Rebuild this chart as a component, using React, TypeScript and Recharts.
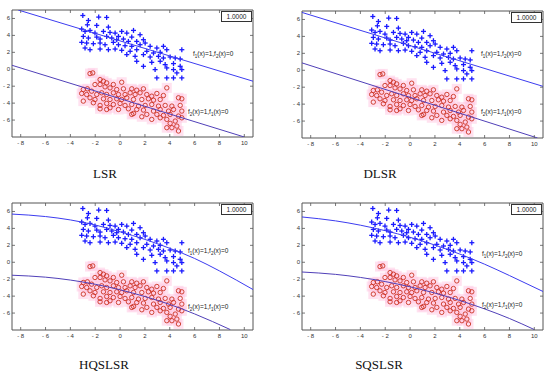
import React from 'react';
import { ScatterChart, Scatter, XAxis, YAxis, ReferenceArea } from 'recharts';

// class 1 (blue +) and class 2 (red o) samples, same in all four panels
const BLUE_POINTS = [
  { x: -3.0, y: 6.35 }, { x: -2.55, y: 5.76 }, { x: -1.72, y: 6.16 }, { x: -1.08, y: 6.12 },
  { x: -2.63, y: 5.25 }, { x: -1.88, y: 5.18 }, { x: -3.09, y: 4.75 }, { x: -2.82, y: 4.47 },
  { x: -2.42, y: 4.59 }, { x: -2.02, y: 4.27 }, { x: -1.34, y: 4.47 }, { x: -0.81, y: 4.35 },
  { x: -0.4, y: 4.27 }, { x: 0.13, y: 4.47 }, { x: 0.54, y: 4.27 }, { x: 1.61, y: 4.08 },
  { x: 0.94, y: 3.8 }, { x: -2.96, y: 3.88 }, { x: -2.55, y: 3.69 }, { x: -1.88, y: 3.8 },
  { x: -1.61, y: 3.57 }, { x: -1.08, y: 3.88 }, { x: -0.67, y: 3.69 }, { x: -0.27, y: 3.49 },
  { x: 0.27, y: 3.57 }, { x: 0.67, y: 3.29 }, { x: 1.34, y: 3.29 }, { x: 1.88, y: 3.49 },
  { x: -3.09, y: 3.18 }, { x: -2.69, y: 3.1 }, { x: -2.15, y: 3.02 }, { x: -1.61, y: 3.1 },
  { x: -1.21, y: 2.9 }, { x: -0.54, y: 3.18 }, { x: -0.13, y: 2.9 }, { x: 0.4, y: 2.78 },
  { x: 0.94, y: 2.71 }, { x: 1.61, y: 2.9 }, { x: 2.02, y: 3.1 }, { x: 2.42, y: 2.71 },
  { x: 2.96, y: 2.51 }, { x: 3.49, y: 2.71 }, { x: -2.82, y: 2.51 }, { x: -2.42, y: 2.31 },
  { x: -1.61, y: 2.39 }, { x: -0.94, y: 2.31 }, { x: -0.4, y: 2.39 }, { x: 0.13, y: 2.24 },
  { x: 0.81, y: 2.12 }, { x: 1.34, y: 2.31 }, { x: 2.15, y: 2.12 }, { x: 2.69, y: 1.92 },
  { x: 3.23, y: 2.0 }, { x: 3.76, y: 2.31 }, { x: 4.97, y: 2.31 }, { x: 0.54, y: 1.73 },
  { x: 1.21, y: 1.53 }, { x: 1.88, y: 1.73 }, { x: 2.42, y: 1.45 }, { x: 3.09, y: 1.53 },
  { x: 3.49, y: 1.33 }, { x: 4.03, y: 1.45 }, { x: 4.44, y: 1.33 }, { x: 4.84, y: 1.22 },
  { x: 1.34, y: 0.94 }, { x: 2.55, y: 0.82 }, { x: 3.23, y: 0.94 }, { x: 3.63, y: 0.55 },
  { x: 4.3, y: 0.67 }, { x: 4.84, y: 0.35 }, { x: 1.88, y: 0.35 }, { x: 3.76, y: 0.16 },
  { x: 4.3, y: -0.04 }, { x: 4.97, y: -0.04 }, { x: 4.57, y: -0.43 }, { x: 2.96, y: -1.02 },
  { x: 3.76, y: -1.02 }, { x: 4.3, y: -1.02 }, { x: 4.97, y: -1.02 }, { x: 2.82, y: -0.04 },
  { x: -0.13, y: 3.88 }, { x: 1.08, y: 4.59 }, { x: -0.94, y: 4.98 },
];

const RED_POINTS = [
  { x: -2.2, y: -0.43 }, { x: -2.42, y: -0.51 }, { x: -1.61, y: -1.22 }, { x: -1.34, y: -1.41 },
  { x: -1.08, y: -1.61 }, { x: -0.54, y: -1.8 }, { x: 0.13, y: -1.53 }, { x: -1.61, y: -1.8 },
  { x: -2.02, y: -1.8 }, { x: -1.21, y: -2.08 }, { x: -0.81, y: -2.2 }, { x: -0.27, y: -2.39 },
  { x: 0.27, y: -2.31 }, { x: 0.94, y: -2.31 }, { x: 1.34, y: -2.47 }, { x: 1.88, y: -2.31 },
  { x: 3.76, y: -2.2 }, { x: -2.96, y: -2.39 }, { x: -2.63, y: -2.31 }, { x: -2.29, y: -2.59 },
  { x: -3.09, y: -2.86 }, { x: -2.69, y: -2.98 }, { x: -1.88, y: -2.98 }, { x: -1.48, y: -2.78 },
  { x: -1.08, y: -2.98 }, { x: -0.54, y: -2.78 }, { x: -0.13, y: -2.98 }, { x: 0.4, y: -2.98 },
  { x: 0.81, y: -2.78 }, { x: 1.21, y: -2.98 }, { x: 1.61, y: -2.78 }, { x: 2.15, y: -2.98 },
  { x: 2.55, y: -3.18 }, { x: 2.96, y: -2.86 }, { x: 3.49, y: -3.1 }, { x: -2.42, y: -3.37 },
  { x: -2.02, y: -3.57 }, { x: -1.34, y: -3.49 }, { x: -0.81, y: -3.57 }, { x: -0.27, y: -3.49 },
  { x: 0.13, y: -3.57 }, { x: 0.54, y: -3.37 }, { x: 1.08, y: -3.57 }, { x: 1.75, y: -3.57 },
  { x: 2.28, y: -3.49 }, { x: 2.69, y: -3.65 }, { x: 3.23, y: -3.57 }, { x: 4.7, y: -3.37 },
  { x: 4.97, y: -3.49 }, { x: -2.96, y: -3.76 }, { x: -2.15, y: -3.96 }, { x: -1.61, y: -4.27 },
  { x: -1.08, y: -4.04 }, { x: -0.54, y: -4.16 }, { x: 0.0, y: -4.04 }, { x: 0.4, y: -4.27 },
  { x: 0.94, y: -4.16 }, { x: 1.48, y: -4.35 }, { x: 2.02, y: -4.27 }, { x: 2.55, y: -4.16 },
  { x: 3.09, y: -4.35 }, { x: 3.63, y: -4.27 }, { x: 4.17, y: -4.35 }, { x: 4.84, y: -4.27 },
  { x: -0.81, y: -4.55 }, { x: -0.13, y: -4.75 }, { x: 0.67, y: -4.67 }, { x: 1.34, y: -4.75 },
  { x: 1.88, y: -4.82 }, { x: 2.69, y: -4.94 }, { x: 3.23, y: -4.75 }, { x: 3.9, y: -4.94 },
  { x: 4.3, y: -4.75 }, { x: 4.97, y: -4.94 }, { x: 1.08, y: -5.22 }, { x: 2.15, y: -5.33 },
  { x: 2.96, y: -5.33 }, { x: 3.49, y: -5.45 }, { x: 4.03, y: -5.33 }, { x: 4.7, y: -5.53 },
  { x: 1.75, y: -5.61 }, { x: 2.55, y: -5.92 }, { x: 3.23, y: -5.73 }, { x: 3.76, y: -5.92 },
  { x: 4.44, y: -6.12 }, { x: 4.97, y: -5.73 }, { x: 4.03, y: -6.39 }, { x: 4.57, y: -6.71 },
  { x: 3.76, y: -6.9 }, { x: 4.17, y: -6.9 }, { x: 4.7, y: -7.29 }, { x: 0.94, y: -5.33 },
  { x: -1.61, y: -4.67 }, { x: -1.08, y: -4.75 },
];

// decision boundaries f1 = 1 / f2 = 1
const LSR_F1 = [{ x: -8.2, y: 7 }, { x: 10.7, y: -1.41 }];
const LSR_F2 = [{ x: -8.7, y: 0.47 }, { x: 10.0, y: -8 }];
const DLSR_F1 = [{ x: -8.7, y: 6.83 }, { x: 10.7, y: -1.9 }];
const DLSR_F2 = [{ x: -8.7, y: 0.87 }, { x: 10.26, y: -8 }];
const HQ_F1 = [
  { x: -8.7, y: 5.69 }, { x: -6, y: 5.4 }, { x: -4, y: 5.0 }, { x: -2, y: 4.4 }, { x: 0, y: 3.6 },
  { x: 2, y: 2.7 }, { x: 4, y: 1.65 }, { x: 6, y: 0.45 }, { x: 8, y: -1.02 }, { x: 10.7, y: -3.22 },
];
const HQ_F2 = [
  { x: -8.7, y: -1.53 }, { x: -6, y: -1.76 }, { x: -4, y: -2.1 }, { x: -2, y: -2.6 }, { x: 0, y: -3.25 },
  { x: 2, y: -4.05 }, { x: 4, y: -4.98 }, { x: 6, y: -6.1 }, { x: 8.87, y: -7.95 },
];
const SQ_F1 = [
  { x: -8.7, y: 5.35 }, { x: -6, y: 4.89 }, { x: -4, y: 4.38 }, { x: -2, y: 3.73 }, { x: 0, y: 2.95 },
  { x: 2, y: 2.03 }, { x: 4, y: 0.97 }, { x: 6, y: -0.23 }, { x: 8, y: -1.57 }, { x: 10.7, y: -3.45 },
];
const SQ_F2 = [
  { x: -8.7, y: -1.15 }, { x: -6, y: -1.43 }, { x: -4, y: -1.79 }, { x: -2, y: -2.28 }, { x: 0, y: -2.9 },
  { x: 2, y: -3.64 }, { x: 4, y: -4.51 }, { x: 6, y: -5.51 }, { x: 8, y: -6.64 }, { x: 10, y: -7.95 },
];

const X_TICKS = [-8, -6, -4, -2, 0, 2, 4, 6, 8, 10];
const Y_TICKS = [-6, -4, -2, 0, 2, 4, 6];
const X_DOMAIN = [-8.7, 10.7];
const Y_DOMAIN = [-8, 7];

const PW = 241;
const PH = 127;
const AXIS = '#555';
const SANS = '"Liberation Sans", Arial, sans-serif';

const fmt = (v: number) => (v < 0 ? `- ${Math.abs(v)}` : `${v}`);

const XTick = (props: any) => {
  const { x, y, payload } = props;
  return (
    <g>
      <line x1={x} y1={y} x2={x} y2={y - 3} stroke={AXIS} strokeWidth={0.8} />
      <line x1={x} y1={y - PH} x2={x} y2={y - PH + 3} stroke={AXIS} strokeWidth={0.8} />
      <text x={x} y={y + 8} textAnchor="middle" fontSize={6} fontFamily={SANS} fill="#333">
        {fmt(payload.value)}
      </text>
    </g>
  );
};

const YTick = (props: any) => {
  const { x, y, payload } = props;
  return (
    <g>
      <line x1={x} y1={y} x2={x + 3} y2={y} stroke={AXIS} strokeWidth={0.8} />
      <line x1={x + PW} y1={y} x2={x + PW - 3} y2={y} stroke={AXIS} strokeWidth={0.8} />
      <text x={x - 2} y={y + 2} textAnchor="end" fontSize={6} fontFamily={SANS} fill="#333">
        {fmt(payload.value)}
      </text>
    </g>
  );
};

const Plus = (props: any) => {
  const { cx, cy } = props;
  return (
    <g stroke="#1a1aff" strokeWidth={1.3}>
      <line x1={cx - 2.5} y1={cy} x2={cx + 2.5} y2={cy} />
      <line x1={cx} y1={cy - 2.5} x2={cx} y2={cy + 2.5} />
    </g>
  );
};

const PinkPatch = (props: any) => {
  const { cx, cy } = props;
  return <rect x={cx - 5} y={cy - 5} width={10} height={10} fill="#ffc6e2" fillOpacity={0.5} />;
};

const Ring = (props: any) => {
  const { cx, cy } = props;
  return <circle cx={cx} cy={cy} r={2.2} fill="none" stroke="#cc3322" strokeWidth={0.9} />;
};

const NoDot = () => <g />;

const Sub = ({ n }: { n: string }) => (
  <span style={{ fontSize: 4.5, verticalAlign: -1.5 }}>{n}</span>
);

interface PanelProps {
  left: number;
  top: number;
  f1: Array<{ x: number; y: number }>;
  f2: Array<{ x: number; y: number }>;
  f1Label: [number, number];
  f2Label: [number, number];
}

const Panel: React.FC<PanelProps> = ({ left, top, f1, f2, f1Label, f2Label }) => {
  const labelStyle: React.CSSProperties = {
    position: 'absolute',
    fontFamily: SANS,
    fontSize: 6.5,
    color: '#222',
    whiteSpace: 'nowrap',
    lineHeight: '8px',
  };
  return (
    <div style={{ position: 'absolute', left: left - 12, top: top - 10 }}>
      <ScatterChart width={PW + 12 + 7} height={PH + 10 + 13} margin={{ top: 10, right: 7, bottom: 0, left: 0 }}>
        <XAxis
          type="number"
          dataKey="x"
          domain={X_DOMAIN}
          ticks={X_TICKS}
          allowDataOverflow
          axisLine={false}
          tickLine={false}
          tickSize={0}
          tickMargin={0}
          height={13}
          tick={<XTick />}
          interval={0}
        />
        <YAxis
          type="number"
          dataKey="y"
          domain={Y_DOMAIN}
          ticks={Y_TICKS}
          allowDataOverflow
          axisLine={false}
          tickLine={false}
          tickSize={0}
          tickMargin={0}
          width={12}
          tick={<YTick />}
          interval={0}
        />
        <ReferenceArea
          x1={X_DOMAIN[0]}
          x2={X_DOMAIN[1]}
          y1={Y_DOMAIN[0]}
          y2={Y_DOMAIN[1]}
          fill="none"
          fillOpacity={0}
          stroke={AXIS}
          strokeWidth={1}
        />
        <Scatter data={RED_POINTS} shape={<PinkPatch />} isAnimationActive={false} />
        <Scatter data={BLUE_POINTS} shape={<Plus />} isAnimationActive={false} />
        <Scatter data={RED_POINTS} shape={<Ring />} isAnimationActive={false} />
        <Scatter
          data={f1}
          line={{ stroke: '#3c3cf0', strokeWidth: 1 }}
          lineJointType="monotoneX"
          shape={<NoDot />}
          isAnimationActive={false}
        />
        <Scatter
          data={f2}
          line={{ stroke: '#5040b8', strokeWidth: 1 }}
          lineJointType="monotoneX"
          shape={<NoDot />}
          isAnimationActive={false}
        />
      </ScatterChart>
      <div
        style={{
          position: 'absolute',
          left: 12 + PW - 32,
          top: 11,
          width: 29,
          height: 9,
          border: '1px solid #333',
          background: '#fff',
          fontFamily: SANS,
          fontSize: 6.5,
          lineHeight: '9px',
          textAlign: 'center',
          color: '#222',
        }}
      >
        1.0000
      </div>
      <div style={{ ...labelStyle, left: 12 + f1Label[0], top: 10 + f1Label[1] - 4 }}>
        f<Sub n="1" />(x)=1,f<Sub n="2" />(x)=0
      </div>
      <div style={{ ...labelStyle, left: 12 + f2Label[0], top: 10 + f2Label[1] - 4 }}>
        f<Sub n="2" />(x)=1,f<Sub n="1" />(x)=0
      </div>
    </div>
  );
};

const Caption = ({ text, cx, top }: { text: string; cx: number; top: number }) => (
  <div
    style={{
      position: 'absolute',
      left: cx - 50,
      width: 100,
      top,
      textAlign: 'center',
      fontFamily: '"Liberation Serif", "Times New Roman", serif',
      fontSize: 13,
      lineHeight: '13px',
      color: '#111',
    }}
  >
    {text}
  </div>
);

export default function App() {
  return (
    <div style={{ position: 'absolute', left: 0, top: 0, width: 550, height: 376, background: '#fff', overflow: 'hidden' }}>
      <Panel left={12} top={10} f1={LSR_F1} f2={LSR_F2} f1Label={[181, 44]} f2Label={[176, 102]} />
      <Panel left={302} top={11} f1={DLSR_F1} f2={DLSR_F2} f1Label={[179, 43]} f2Label={[179, 101]} />
      <Panel left={12} top={203} f1={HQ_F1} f2={HQ_F2} f1Label={[176, 48]} f2Label={[176, 104]} />
      <Panel left={302} top={203} f1={SQ_F1} f2={SQ_F2} f1Label={[180, 51]} f2Label={[180, 102]} />
      <Caption text="LSR" cx={105} top={167} />
      <Caption text="DLSR" cx={380} top={167} />
      <Caption text="HQSLSR" cx={104} top={358} />
      <Caption text="SQSLSR" cx={379} top={358} />
    </div>
  );
}
